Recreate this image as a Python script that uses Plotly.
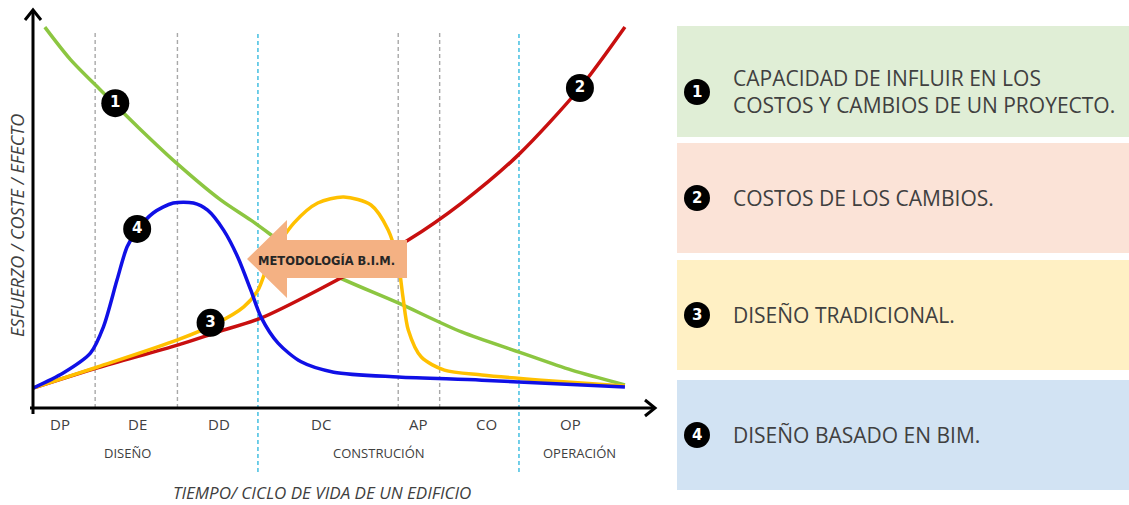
import plotly.graph_objects as go

W, H = 1129, 505

# ---------------- data (time 0..100, value 0..100) ----------------
green_t = [2.0, 6.3, 11.4, 17.8, 24.2, 31.7, 36.8, 48.1, 61.7, 72.4, 82.0, 91.0, 100]
green_v = [95.7, 87.6, 79.9, 70.5, 61.6, 52.3, 47.2, 35.4, 26.4, 19.1, 14.1, 9.5, 5.8]

red_t = [0, 10.9, 24.4, 31.2, 38.5, 48.1, 63.4, 72.4, 82.0, 92.4, 100]
red_v = [5.0, 10.1, 15.8, 19.1, 22.6, 29.6, 42.2, 51.5, 63.6, 80.4, 95.7]

yellow_t = [0, 10.9, 24.4, 31.2, 35.6, 38.0, 40.2, 44.1, 48.1, 52.5, 57.1, 60.0, 61.7,
            62.5, 63.4, 65.6, 69.5, 75.8, 85.9, 100]
yellow_v = [5.0, 10.3, 17.1, 21.4, 25.4, 29.6, 37.9, 46.5, 51.5, 53.0, 51.0, 44.7, 36.4,
            27.9, 19.6, 12.8, 9.5, 8.3, 7.0, 5.5]

blue_t = [0, 5.1, 9.7, 11.9, 14.2, 15.9, 17.6, 20.3, 23.7, 27.1, 29.5, 32.2, 34.6, 36.8,
          38.5, 41.4, 45.3, 50.8, 61.7, 75.8, 100]
blue_v = [5.0, 8.8, 13.8, 20.4, 32.2, 40.5, 44.7, 49.0, 51.5, 51.5, 49.7, 44.7, 37.9, 29.6,
          22.9, 16.3, 11.6, 9.0, 7.8, 7.0, 5.3]

series_nums = ["1", "2", "3", "4"]
marker_t = [13.9, 92.4, 30.0, 17.6]
marker_v = [76.6, 80.4, 21.4, 45.0]

phase_codes = ["DP", "DE", "DD", "DC", "AP", "CO", "OP"]
code_t = [4.6, 17.6, 31.5, 48.6, 65.1, 76.6, 90.8]
phase_groups = ["DISEÑO", "CONSTRUCIÓN", "OPERACIÓN"]
group_t = [15.9, 58.5, 92.4]
gray_bounds = [10.5, 24.4, 61.7, 68.7]
cyan_bounds = [38.0, 82.1]

legend_texts = [
    "CAPACIDAD DE INFLUIR EN LOS<br>COSTOS Y CAMBIOS DE UN PROYECTO.",
    "COSTOS DE LOS CAMBIOS.",
    "DISEÑO TRADICIONAL.",
    "DISEÑO BASADO EN BIM.",
]

# ---------------- styles / layout ----------------
C_GREEN, C_RED, C_YELLOW, C_BLUE = "#8CC641", "#C80F0F", "#FFC000", "#1010E6"
box_fills = ["#E0EED6", "#FBE3D7", "#FFF0C4", "#D2E3F3"]
box_tops = [26, 143, 260, 380]
box_bots = [137, 253, 370, 490]
legend_cy = [92, 198, 315, 435]


def px(x):
    return x / W


def py(y):
    return 1 - y / H


fig = go.Figure()
for t, v, c in [(green_t, green_v, C_GREEN), (red_t, red_v, C_RED),
                (yellow_t, yellow_v, C_YELLOW), (blue_t, blue_v, C_BLUE)]:
    fig.add_trace(go.Scatter(x=t, y=v, mode="lines",
                             line=dict(color=c, width=3.5, shape="spline", smoothing=0.8),
                             hoverinfo="skip", showlegend=False))

fig.add_trace(go.Scatter(x=marker_t, y=marker_v, mode="markers+text", text=series_nums,
                         textposition="middle center",
                         textfont=dict(color="white", size=15, family="DejaVu Sans", weight="bold"),
                         marker=dict(size=28, color="black"),
                         hoverinfo="skip", showlegend=False))

shapes = []
annotations = []


def note(x, y, text, size, color="#404040", family="Open Sans", xref="paper", **kw):
    d = dict(xref=xref, yref="paper", x=x, y=y, text=text, showarrow=False,
             xanchor="center", yanchor="middle",
             font=dict(family=family, size=size, color=color))
    d.update(kw)
    annotations.append(d)


# phase separators
for b in gray_bounds:
    shapes.append(dict(type="line", xref="x", yref="paper", x0=b, x1=b, y0=py(408), y1=py(33),
                       line=dict(color="#A8A8A8", width=1.4, dash="4px,3px"), layer="below"))
for b in cyan_bounds:
    shapes.append(dict(type="line", xref="x", yref="paper", x0=b, x1=b, y0=py(472), y1=py(33),
                       line=dict(color="#4FC3E3", width=1.6, dash="4px,3px"), layer="below"))

# axes lines with arrow heads
shapes.append(dict(type="line", xref="paper", yref="paper", x0=px(33), x1=px(33),
                   y0=py(414), y1=py(11), line=dict(color="black", width=3)))
shapes.append(dict(type="line", xref="paper", yref="paper", x0=px(30), x1=px(654),
                   y0=py(408), y1=py(408), line=dict(color="black", width=3)))
shapes.append(dict(type="path", xref="paper", yref="paper",
                   path=f"M {px(25)} {py(20)} L {px(33)} {py(10)} L {px(41)} {py(20)}",
                   line=dict(color="black", width=3)))
shapes.append(dict(type="path", xref="paper", yref="paper",
                   path=f"M {px(645)} {py(400)} L {px(655)} {py(408)} L {px(645)} {py(416)}",
                   line=dict(color="black", width=3)))

# BIM arrow
arrow_pts = [(247, 259), (287, 220), (287, 240), (407, 240), (407, 278), (287, 278), (287, 298)]
path = "M " + " L ".join(f"{px(a)} {py(b)}" for a, b in arrow_pts) + " Z"
shapes.append(dict(type="path", xref="paper", yref="paper", path=path,
                   fillcolor="#F4B183", line=dict(width=0), layer="above"))
note(px(326), py(260), "<b>METODOLOGÍA B.I.M.</b>", 11.5, color="#262626", family="DejaVu Sans")

# phase labels
for lab, t in zip(phase_codes, code_t):
    note(t, py(424), lab, 15, xref="x")
for lab, t in zip(phase_groups, group_t):
    note(t, py(453), lab, 13, xref="x")

note(px(322), py(492), "<i>TIEMPO/ CICLO DE VIDA DE UN EDIFICIO</i>", 17)
note(px(17), py(226), "<i>ESFUERZO / COSTE / EFECTO</i>", 18, textangle=-90)

# legend boxes
for i in range(4):
    shapes.append(dict(type="rect", xref="paper", yref="paper", x0=px(677), x1=1.0,
                       y0=py(box_bots[i]), y1=py(box_tops[i]), fillcolor=box_fills[i],
                       line=dict(width=0), layer="below"))
    cy = legend_cy[i]
    shapes.append(dict(type="circle", xref="paper", yref="paper", x0=px(684), x1=px(710),
                       y0=py(cy + 13), y1=py(cy - 13), fillcolor="black", line=dict(width=0)))
    note(px(697), py(cy), f"<b>{series_nums[i]}</b>", 15, color="white", family="DejaVu Sans")
    note(px(731), py(cy), legend_texts[i], 21, xanchor="left", align="left")

fig.update_layout(
    width=W, height=H, margin=dict(l=0, r=0, t=0, b=0),
    paper_bgcolor="white", plot_bgcolor="rgba(0,0,0,0)",
    xaxis=dict(domain=[px(33), px(655)], range=[0, 105.08], visible=False, fixedrange=True),
    yaxis=dict(domain=[py(408), py(10)], range=[0, 100], visible=False, fixedrange=True),
    shapes=shapes, annotations=annotations, showlegend=False, hovermode=False,
)

fig.write_html("out.html", config={"displayModeBar": False, "staticPlot": True},
               post_script="document.body.style.margin='0px';document.body.style.overflow='hidden';")
